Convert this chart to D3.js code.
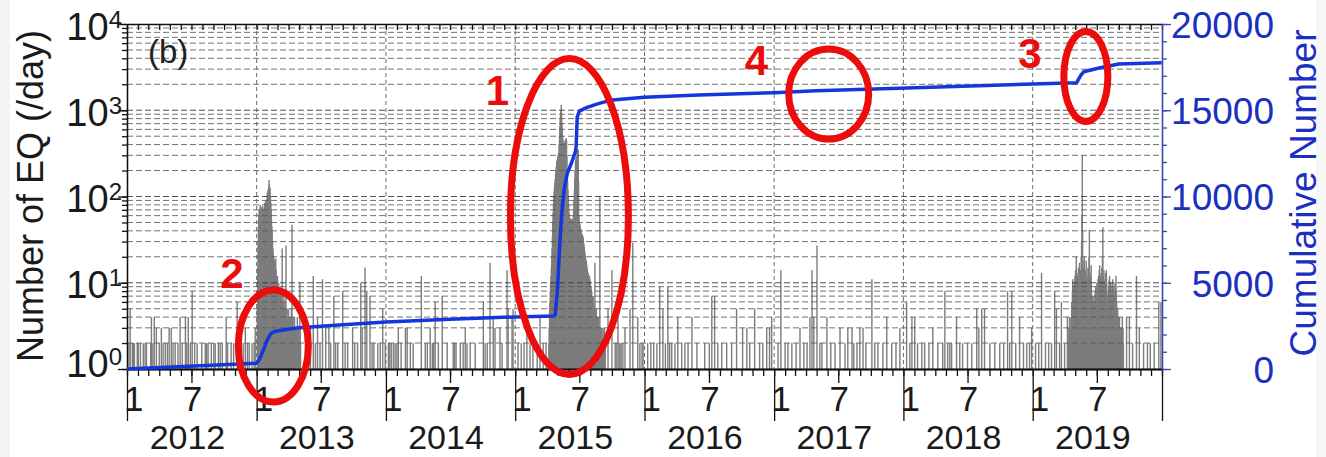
<!DOCTYPE html>
<html>
<head>
<meta charset="utf-8">
<script src="https://cdn.jsdelivr.net/npm/d3@7"></script>
<style>
body { margin: 0; background: #fff; }
svg { display: block; }
text { font-family: "Liberation Sans", Arial, Helvetica, sans-serif; }
</style>
</head>
<body>
<div id="chart"></div>
<script>
// daily counts, [day of year, count]
// (days with 0 or 1 event leave no visible bar on the log axis)
var days2012 = [[5,2],[8,5],[14,2],[17,2],[20,2],[28,2],[31,2],[37,2],[45,2],[50,2],[54,2],[66,2],[68,4],[72,2],[76,4],[82,3],[90,2],[96,3],[101,2],[107,2],[113,2],[118,3],[124,3],[129,2],[135,2],[143,2],[149,4],[155,2],[164,4],[168,2],[172,4],[178,2],[183,8],[190,2],[197,2],[210,2],[220,2],[224,2],[228,2],[237,2],[244,2],[248,2],[257,2],[262,2],[268,2],[279,4],[283,2],[293,2],[300,2],[310,6],[315,2],[321,2],[327,2],[333,3],[339,2],[344,2],[352,2],[358,2],[361,3]];
var days2013 = [[140,2],[151,3],[159,12],[165,2],[171,4],[178,2],[185,11],[194,3],[203,3],[208,2],[217,7],[222,2],[228,2],[242,8],[249,2],[256,2],[270,3],[276,2],[284,2],[293,10],[297,3],[305,15],[310,8],[319,7],[325,2],[330,2],[341,2],[348,2],[355,5],[362,2]];
var days2014 = [[6,2],[10,2],[14,2],[20,2],[25,2],[30,2],[34,3],[42,2],[54,3],[59,3],[68,2],[76,2],[99,12],[110,2],[116,2],[124,3],[130,2],[134,2],[138,6],[147,2],[158,7],[172,2],[189,2],[193,2],[197,2],[209,2],[217,2],[223,3],[228,2],[237,2],[251,2],[274,6],[279,2],[285,2],[293,17],[302,4],[307,3],[321,3],[327,2],[341,14],[344,5],[355,4],[358,5]];
var days2015 = [[7,2],[16,2],[24,2],[32,3],[41,2],[49,2],[61,2],[69,4],[78,2],[86,2],[261,5],[272,14],[281,2],[284,2],[289,4],[292,2],[295,2],[298,2],[303,2],[309,3],[323,5],[331,29],[345,4],[351,2],[357,2],[360,2]];
var days2016 = [[8,2],[17,2],[25,2],[34,2],[42,9],[51,5],[58,2],[65,9],[70,2],[76,2],[85,2],[93,4],[104,2],[113,2],[122,2],[133,4],[147,2],[169,2],[182,2],[189,7],[197,7],[206,2],[217,2],[231,2],[245,2],[259,5],[276,3],[288,3],[296,2],[310,5],[324,2],[333,2],[344,3],[352,3],[358,4]];
var days2017 = [[10,2],[18,14],[30,2],[38,2],[49,2],[61,2],[72,3],[83,2],[92,2],[100,4],[106,14],[111,4],[120,27],[128,2],[134,2],[148,4],[159,2],[171,2],[185,3],[199,2],[207,3],[219,3],[224,2],[233,2],[241,3],[250,3],[258,2],[275,11],[283,2],[292,2],[306,2],[317,4],[331,2],[343,2],[354,3]];
var days2018 = [[8,6],[17,2],[23,4],[31,4],[39,2],[51,2],[59,2],[71,2],[82,3],[96,2],[110,2],[116,8],[124,2],[130,2],[135,2],[149,4],[158,2],[166,2],[180,2],[192,2],[206,5],[212,3],[220,5],[228,5],[243,2],[257,2],[271,2],[282,2],[293,8],[299,2],[305,8],[316,2],[327,4],[338,2],[347,2],[355,2],[361,3]];
var days2019 = [[7,2],[16,2],[24,13],[35,2],[44,2],[52,2],[61,8],[66,5],[75,2],[80,6],[89,2],[97,4],[264,4],[272,4],[281,2],[292,12],[300,3],[312,2],[323,2],[331,2],[342,2],[355,6],[361,6]];

// the three swarms, one count per day from the start date
var swarm2013Start = "2013-01-01";
var swarm2013 = [5,15,30,45,60,70,65,72,80,70, 75,70,68,75,72,78,70,65,72,68, 75,85,70,80,90,75,85,95,110,90,
  120,100,130,155,140,110,126,100,85,70, 55,45,38,30,25,22,20,19,18,17, 16,15,19,14,12,11,10,12,9,8,
  10,9,8,7,9,7,6,8,6,7, 25,6,5,6,5,7,5,4,6,5, 4,27,5,4,5,4,3,4,5,3,
  4,3,4,3,4,3,5,3,47,4, 3,4,3,2,3,4,3,2,3,2, 3,2,3,4,2,3,2,3,2,2, 10,3,2];
var swarm2015Start = "2015-04-04";
var swarm2015 = [2,3,5,6,8,10,12,15,20,25, 35,50,65,80,100,115,130,143,160,180, 200,220,250,260,270,290,300,320,290,400,
  500,650,800,900,1000,1150,900,700,600,500, 450,420,400,380,400,420,440,460,470,470, 440,300,200,150,120,100,80,65,58,56,
  56,55,54,53,54,55,54,53,53,60, 70,90,120,160,200,250,270,290,280,300, 320,350,330,350,150,60,49,49,47,45,
  42,40,38,37,36,35,34,34,30,28, 26,24,22,20,19,18,18,16,15,14, 13,13,12,12,12,12,11,10,9,9,
  8,8,7,7,7,7,6,6,5,5, 17,5,4,4,5,4,4,3,4,4, 3,4,3,3,99,3,3,2,3,2, 3,2,2,3,2,2,2,3,2,2];
var swarm2019Start = "2019-04-10";
var swarm2019 = [2,3,2,4,3,2, 3,4,3,6,5,8,11,6,9,7, 10,8,12,9,14,11,20,10,13,9, 12,8,15,11,10,17,9,12,14,10,
  20,30,60,300,40,18,12,15,10,20, 13,9,11,14,18,10,8,12,9,15, 11,14,20,41,13,10,9,12,16,8,
  6,7,5,5,6,4,7,5,6,8, 6,9,8,7,10,6,9,11,8,12, 10,14,16,9,12,10,13,8,15,11,
  20,44,12,9,14,10,8,11,7,13, 9,14,10,7,5,6,8,5,9,11, 12,8,10,7,9,6,8,10,7,11,
  9,6,8,5,7,10,6,9,12,8, 6,5,4,5,3,4,3,4,4,3, 3,2,3,3,2,3,4,2,3,2];

// cumulative number (right axis)
var cumulative = [["2012-01-01",0],["2012-12-31",330],["2013-01-03",380],["2013-01-10",600],["2013-01-20",1100],
  ["2013-01-30",1650],["2013-02-10",2050],["2013-02-20",2170],["2013-03-20",2280],["2013-05-01",2390],
  ["2013-09-01",2560],["2014-01-01",2720],["2014-07-01",2880],["2015-01-01",3020],["2015-04-20",3070],
  ["2015-04-24",3150],["2015-04-30",4500],["2015-05-05",6500],["2015-05-11",8600],["2015-05-14",9400],
  ["2015-05-20",10500],["2015-05-28",11350],["2015-06-08",11900],["2015-06-20",12600],["2015-06-22",12900],
  ["2015-06-25",14600],["2015-07-01",14950],["2015-07-21",15150],["2015-08-26",15400],["2015-10-02",15600],
  ["2016-01-01",15760],["2016-06-03",15880],["2016-12-31",16020],["2017-04-30",16130],["2017-12-20",16270],
  ["2019-01-01",16520],["2019-05-05",16600],["2019-05-17",17040],["2019-05-25",17230],["2019-07-07",17450],
  ["2019-09-01",17680],["2019-12-31",17750]];

var leftTicks = [1, 10, 100, 1000, 10000];
var rightTicks = [0, 5000, 10000, 15000, 20000];
var years = [2012, 2013, 2014, 2015, 2016, 2017, 2018, 2019];

// red marks: label, where the label sits, where the ring sits (date, cumulative number)
var noteLabels = ["1", "2", "3", "4"];
var noteText = [["2014-11-12",16170],["2012-10-23",5570],["2018-12-24",18320],["2016-11-12",17910]];
var noteRing = [["2015-06-03",8840],["2013-02-17",1330],["2019-05-31",16960],["2017-06-04",15940]];

var W = 1326, H = 457;
var margin = { top: 24, right: 164, bottom: 88, left: 127 },
    width = W - margin.left - margin.right,
    height = H - margin.top - margin.bottom;

var parse = d3.timeParse("%Y-%m-%d");

var svg = d3.select("#chart").append("svg")
    .attr("width", W).attr("height", H);
svg.append("rect").attr("width", W).attr("height", H).attr("fill", "#fff");
// faint scan edge on both sides
svg.append("rect").attr("width", 10).attr("height", H).attr("fill", "#f4f4f4");
svg.append("rect").attr("x", W - 10).attr("width", 10).attr("height", H).attr("fill", "#f6f6f6");

var g = svg.append("g").attr("transform", "translate(" + margin.left + "," + margin.top + ")");

var x = d3.scaleTime()
    .domain([new Date(2012, 0, 1), new Date(2020, 0, 1)])
    .range([0, width]);
var y = d3.scaleLog().domain([1, 10000]).range([height, 0]);
var y2 = d3.scaleLinear().domain([0, 20000]).range([height, 0]);

// collect every bar
var bars = [];
[[2012, days2012], [2013, days2013], [2014, days2014], [2015, days2015],
 [2016, days2016], [2017, days2017], [2018, days2018], [2019, days2019]].forEach(function (yr) {
    yr[1].forEach(function (d) {
        bars.push({ date: d3.timeDay.offset(new Date(yr[0], 0, 1), d[0] - 1), n: d[1] });
    });
});
[[swarm2013Start, swarm2013], [swarm2015Start, swarm2015], [swarm2019Start, swarm2019]].forEach(function (s) {
    var t0 = parse(s[0]);
    s[1].forEach(function (n, i) {
        bars.push({ date: d3.timeDay.offset(t0, i), n: n });
    });
});

g.append("g").selectAll("rect")
    .data(bars.filter(function (d) { return d.n > 1; }))
    .enter().append("rect")
    .attr("x", function (d) { return x(d.date); })
    .attr("width", 1.4)
    .attr("y", function (d) { return y(d.n); })
    .attr("height", function (d) { return y(1) - y(d.n); })
    .attr("fill", "#7d7d7d");

// dashed grid, log minors + year lines
var minors = [];
for (var k = 0; k < 4; k++) {
    for (var m = 1; m < 10; m++) minors.push(m * Math.pow(10, k));
}
g.append("g").selectAll("line")
    .data(minors.filter(function (v) { return v > 1; }))
    .enter().append("line")
    .attr("x1", 0).attr("x2", width)
    .attr("y1", function (d) { return y(d); })
    .attr("y2", function (d) { return y(d); })
    .attr("stroke", function (d) { return leftTicks.indexOf(d) >= 0 ? "#2e3350" : "#5a5a5a"; })
    .attr("stroke-width", 1)
    .attr("stroke-dasharray", "6,3")
    .attr("opacity", 0.85);

g.append("g").selectAll("line")
    .data(years.slice(1))
    .enter().append("line")
    .attr("x1", function (d) { return x(new Date(d, 0, 1)); })
    .attr("x2", function (d) { return x(new Date(d, 0, 1)); })
    .attr("y1", 0).attr("y2", height)
    .attr("stroke", "#6a6a6a")
    .attr("stroke-dasharray", "4,3");

// bottom axis: months, julys, years
var months = d3.timeMonth.range(new Date(2012, 0, 1), new Date(2020, 0, 2));
var julys = years.map(function (d) { return new Date(d, 6, 1); });
var yearStarts = years.concat([2020]).map(function (d) { return new Date(d, 0, 1); });

function styleAxis(sel, col) {
    sel.selectAll("line").attr("stroke", col).attr("stroke-width", 1.3);
    sel.selectAll("path").attr("stroke", col).attr("stroke-width", 1.3);
}

g.append("g").attr("transform", "translate(0," + height + ")")
    .call(d3.axisBottom(x).tickValues(months).tickSize(7).tickSizeOuter(0).tickFormat(""))
    .call(styleAxis, "#111");
g.append("g").attr("transform", "translate(0," + height + ")")
    .call(d3.axisBottom(x).tickValues(julys).tickSize(14).tickSizeOuter(0).tickFormat(""))
    .call(styleAxis, "#111");
g.append("g").attr("transform", "translate(0," + height + ")")
    .call(d3.axisBottom(x).tickValues(yearStarts).tickSize(52).tickSizeOuter(0).tickFormat(""))
    .call(styleAxis, "#111");

// top axis
g.append("g")
    .call(d3.axisTop(x).tickValues(months).tickSize(-6).tickSizeOuter(0).tickFormat(""))
    .call(styleAxis, "#111");

// month + year labels
var lab = g.append("g").attr("fill", "#1a1a1a");
lab.selectAll(".m1").data(years).enter().append("text")
    .attr("x", function (d) { return x(new Date(d, 0, 1)) - 3; })
    .attr("y", height + 42)
    .attr("font-size", 35)
    .text("1");
lab.selectAll(".m7").data(years).enter().append("text")
    .attr("x", function (d) { return x(new Date(d, 6, 1)) + 1; })
    .attr("y", height + 42)
    .attr("font-size", 35)
    .attr("text-anchor", "middle")
    .text("7");
lab.selectAll(".yr").data(years).enter().append("text")
    .attr("x", function (d) { return x(new Date(d, 6, 1)) - 4; })
    .attr("y", height + 80)
    .attr("font-size", 34)
    .attr("text-anchor", "middle")
    .text(function (d) { return d; });

// left log axis
g.append("g")
    .call(d3.axisLeft(y).tickValues(minors.concat([10000])).tickSize(5).tickSizeOuter(0).tickFormat(""))
    .call(styleAxis, "#111");
var leftAx = g.append("g")
    .call(d3.axisLeft(y).tickValues(leftTicks).tickSize(9).tickSizeOuter(0).tickFormat(""))
    .call(styleAxis, "#111");
leftAx.selectAll(".tick").append("text")
    .attr("x", -5)
    .attr("y", function (d) { return d === 1 ? 7 : 15; })
    .attr("text-anchor", "end")
    .attr("fill", "#1a1a1a")
    .attr("font-size", 38)
    .each(function (d) {
        var t = d3.select(this);
        t.append("tspan").text("10");
        t.append("tspan").attr("dy", -12).attr("font-size", 24).text(Math.round(Math.log10(d)));
    });

// right cumulative axis
var blue = "#1b2fc0";
g.append("g").attr("transform", "translate(" + width + ",0)")
    .call(d3.axisRight(y2).tickValues(d3.range(0, 20001, 1000)).tickSize(5).tickSizeOuter(0).tickFormat(""))
    .call(styleAxis, "#3646b0");
var rightAx = g.append("g").attr("transform", "translate(" + width + ",0)")
    .call(d3.axisRight(y2).tickValues(rightTicks).tickSize(9).tickSizeOuter(0).tickFormat(d3.format("d")))
    .call(styleAxis, "#3646b0");
rightAx.selectAll("text")
    .attr("x", 112).attr("dy", "0.36em")
    .attr("text-anchor", "end")
    .attr("fill", blue)
    .attr("font-size", 37)
    .attr("font-family", "\"Liberation Sans\", Arial, sans-serif");

// axis titles
svg.append("text")
    .attr("transform", "translate(43,196) rotate(-90)")
    .attr("text-anchor", "middle")
    .attr("font-size", 36)
    .attr("fill", "#1a1a1a")
    .text("Number of EQ (/day)");
svg.append("text")
    .attr("transform", "translate(1316,193) rotate(-90)")
    .attr("text-anchor", "middle")
    .attr("font-size", 37)
    .attr("fill", blue)
    .text("Cumulative Number");

g.append("text")
    .attr("x", 21).attr("y", 39)
    .attr("font-size", 33)
    .attr("fill", "#222")
    .text("(b)");

// cumulative line
g.append("path")
    .datum(cumulative)
    .attr("fill", "none")
    .attr("stroke", "#1536dc")
    .attr("stroke-width", 3.5)
    .attr("stroke-linejoin", "round")
    .attr("d", d3.line()
        .x(function (d) { return x(parse(d[0])); })
        .y(function (d) { return y2(d[1]); }));

// red rings and numbers
var ringSize = { "1": [59, 158], "2": [35, 56], "3": [22, 45], "4": [40, 45] };
var red = "#ec0c0c";
noteLabels.forEach(function (lbl, i) {
    var r = ringSize[lbl];
    g.append("ellipse")
        .attr("cx", x(parse(noteRing[i][0])))
        .attr("cy", y2(noteRing[i][1]))
        .attr("rx", r[0]).attr("ry", r[1])
        .attr("fill", "none")
        .attr("stroke", red)
        .attr("stroke-width", 7);
    g.append("text")
        .attr("x", x(parse(noteText[i][0])))
        .attr("y", y2(noteText[i][1]))
        .attr("dy", "0.36em")
        .attr("text-anchor", "middle")
        .attr("font-size", 42)
        .attr("font-weight", "bold")
        .attr("fill", red)
        .text(lbl);
});
</script>
</body>
</html>
